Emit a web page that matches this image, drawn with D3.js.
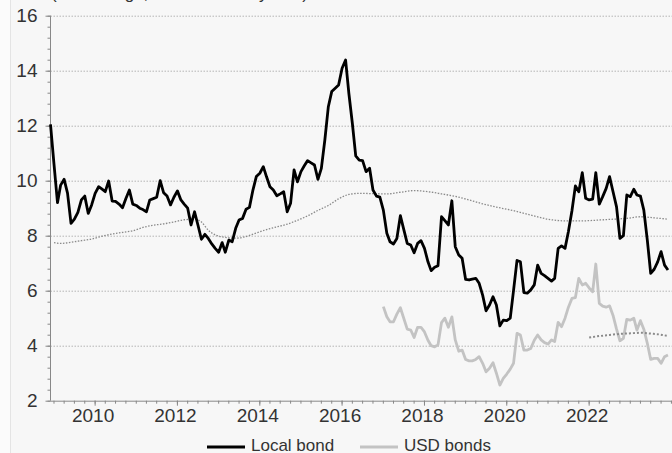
<!DOCTYPE html>
<html>
<head>
<meta charset="utf-8">
<script src="https://cdn.jsdelivr.net/npm/d3@7"></script>
<style>
  body { margin:0; padding:0; background:#f7f7f7; }
  text { font-family: "Liberation Sans", Arial, sans-serif; }
</style>
</head>
<body>
<div id="chart"></div>
<script>
// monthly yields, Dec 2008 .. Dec 2023
let localBond = [
  12.05,10.6,9.2,9.84,10.05,9.55,8.45,8.6,8.85,9.3,9.44,8.81,
  9.12,9.54,9.78,9.7,9.6,9.99,9.26,9.25,9.15,9.02,9.35,9.66,
  9.15,9.1,9.0,8.95,8.87,9.3,9.35,9.4,10.0,9.56,9.44,9.12,
  9.4,9.63,9.3,9.15,9.0,8.39,8.87,8.39,7.87,8.05,7.9,7.7,
  7.54,7.4,7.75,7.4,7.84,7.78,8.27,8.57,8.63,8.96,9.03,9.66,
  10.15,10.27,10.51,10.15,9.78,9.66,9.45,9.52,9.6,8.87,9.18,10.39,
  9.96,10.33,10.55,10.73,10.65,10.57,10.05,10.45,11.48,12.69,13.24,13.36,
  13.48,14.09,14.39,13.18,12.09,10.9,10.75,10.73,10.33,10.45,9.66,9.44,
  9.4,8.93,8.09,7.78,7.7,7.9,8.73,8.23,7.72,7.66,7.38,7.72,
  7.82,7.54,7.05,6.73,6.85,6.91,8.69,8.55,8.39,9.27,7.6,7.3,
  7.18,6.41,6.39,6.42,6.45,6.27,5.84,5.27,5.48,5.78,5.48,4.72,
  4.93,4.91,5.0,6.0,7.1,7.05,5.93,5.91,6.03,6.21,6.93,6.63,
  6.55,6.45,6.35,6.45,7.54,7.63,7.54,8.15,8.9,9.81,9.6,10.29,
  9.36,9.3,9.33,10.29,9.15,9.42,9.72,10.15,9.6,9.05,7.9,8.0,
  9.48,9.42,9.69,9.48,9.44,8.93,7.84,6.63,6.78,7.05,7.42,6.93,
  6.75
];

// USD bonds, Jan 2017 .. Dec 2023
let usdBonds = [
  5.42,5.05,4.87,4.87,5.15,5.38,5.0,4.6,4.57,4.3,4.67,4.67,
  4.5,4.2,4.0,3.96,4.03,4.84,5.0,4.67,5.05,4.21,3.8,3.84,
  3.5,3.45,3.45,3.5,3.6,3.36,3.05,3.18,3.38,3.0,2.57,2.81,
  2.97,3.15,3.36,4.45,4.39,3.84,3.84,3.9,4.2,4.39,4.21,4.11,
  4.06,4.21,4.15,4.85,4.69,5.0,5.4,5.72,5.75,6.45,6.21,6.27,
  6.1,5.96,6.97,5.54,5.44,5.4,5.45,5.1,4.6,4.18,4.27,4.96,
  4.93,5.0,4.57,4.91,4.6,4.09,3.5,3.54,3.54,3.36,3.6,3.66
];

// long-run averages (dotted), month index from Dec 2008
let localAvgMonth = [1,3,6,9,12,15,18,21,24,27,30,33,36,39,42,44,46,48,51,54,57,60,63,66,69,72,75,78,81,84,87,90,94,98,102,106,110,114,118,122,126,130,135,140,145,150,155,160,164,168,172,176,180];
let localAvgValue = [7.75,7.72,7.76,7.82,7.88,7.98,8.06,8.12,8.18,8.3,8.38,8.43,8.5,8.58,8.6,8.5,8.2,8.03,7.94,7.91,7.97,8.1,8.22,8.32,8.42,8.56,8.72,8.92,9.1,9.34,9.5,9.54,9.53,9.52,9.58,9.64,9.6,9.52,9.43,9.3,9.16,9.04,8.91,8.75,8.6,8.54,8.54,8.57,8.6,8.63,8.69,8.65,8.6];
let usdAvgMonth = [157,160,163,166,169,172,175,178,180];
let usdAvgValue = [4.3,4.35,4.39,4.43,4.45,4.47,4.44,4.4,4.35];

let yTicks = [2,4,6,8,10,12,14,16];
let xTickYears = [2010,2012,2014,2016,2018,2020,2022];
let legendNames = ["Local bond","USD bonds"];

let svgWidth = 672;
let svgHeight = 453;
let margin = {top:15.7, right:0, bottom:52.3, left:50.5};
let height = svgHeight - margin.top - margin.bottom;

let startMonth = new Date(2008, 11, 1);
function monthDate(i) { return d3.timeMonth.offset(startMonth, i); }

let svg = d3.select("#chart").append("svg")
  .attr("width", svgWidth)
  .attr("height", svgHeight);

svg.append("rect").attr("width", svgWidth).attr("height", svgHeight).attr("fill", "#f7f7f7");
svg.append("rect").attr("width", 10).attr("height", svgHeight).attr("fill", "#fbfbfb");
svg.append("line").attr("x1", 10.5).attr("x2", 10.5).attr("y1", 0).attr("y2", svgHeight)
  .attr("stroke", "#e4e4e4");

// cut-off subtitle at the very top
svg.append("text")
  .attr("x", 51).attr("y", -1)
  .attr("font-size", "17px").attr("fill", "#333")
  .text("(Percentage, end-of-month yields)");

let x = d3.scaleTime()
  .domain([startMonth, new Date(2024, 0, 6)])
  .range([margin.left, svgWidth]);

let y = d3.scaleLinear()
  .domain([2, 16])
  .range([margin.top + height, margin.top]);

// gridlines
svg.append("g").selectAll("line")
  .data(yTicks.filter(d => d > 2))
  .enter().append("line")
  .attr("x1", margin.left).attr("x2", svgWidth)
  .attr("y1", d => y(d) + 0.5).attr("y2", d => y(d) + 0.5)
  .attr("stroke", "#b4b4b4")
  .attr("stroke-width", 1)
  .attr("stroke-dasharray", "1.5,1.5");

// y axis with minor ticks
let yMinor = d3.range(2, 16.01, 0.4);
let yAxisG = svg.append("g").attr("transform", `translate(${margin.left},0)`);
yAxisG.append("line").attr("x1", 0).attr("x2", 0)
  .attr("y1", y(16)).attr("y2", y(2)).attr("stroke", "#888");
yAxisG.selectAll(".minor").data(yMinor).enter().append("line")
  .attr("x1", -3).attr("x2", 0)
  .attr("y1", d => y(d) + 0.5).attr("y2", d => y(d) + 0.5)
  .attr("stroke", "#888");
yAxisG.selectAll(".major").data(yTicks).enter().append("line")
  .attr("x1", -5).attr("x2", 0)
  .attr("y1", d => y(d) + 0.5).attr("y2", d => y(d) + 0.5)
  .attr("stroke", "#888");
yAxisG.selectAll("text").data(yTicks).enter().append("text")
  .attr("x", -13).attr("y", d => y(d))
  .attr("dy", "0.35em")
  .attr("text-anchor", "end")
  .attr("font-size", "19px").attr("fill", "#333")
  .text(d => d);

// x axis with quarterly minor ticks
let xAxisG = svg.append("g").attr("transform", `translate(0,${y(2)})`);
xAxisG.append("line").attr("x1", margin.left).attr("x2", svgWidth)
  .attr("y1", 0.5).attr("y2", 0.5).attr("stroke", "#888");
let quarters = d3.timeMonth.every(3).range(new Date(2009, 0, 1), new Date(2024, 0, 7));
xAxisG.selectAll(".minor").data(quarters).enter().append("line")
  .attr("x1", d => x(d)).attr("x2", d => x(d))
  .attr("y1", 0).attr("y2", 3).attr("stroke", "#888");
xAxisG.selectAll(".major").data(xTickYears).enter().append("line")
  .attr("x1", d => x(new Date(d, 0, 1))).attr("x2", d => x(new Date(d, 0, 1)))
  .attr("y1", 0).attr("y2", 5).attr("stroke", "#888");
xAxisG.selectAll("text").data(xTickYears).enter().append("text")
  .attr("x", d => x(new Date(d, 0, 1)) - 2)
  .attr("y", 21)
  .attr("text-anchor", "middle")
  .attr("font-size", "19px").attr("fill", "#333")
  .text(d => d);

let line = d3.line()
  .x(d => x(d.date))
  .y(d => y(d.value));

let localData = localBond.map((v, i) => ({date: monthDate(i), value: v}));
let usdData = usdBonds.map((v, i) => ({date: monthDate(97 + i), value: v}));
let localAvg = localAvgMonth.map((m, i) => ({date: monthDate(m), value: localAvgValue[i]}));
let usdAvg = usdAvgMonth.map((m, i) => ({date: monthDate(m), value: usdAvgValue[i]}));

let smooth = d3.line().curve(d3.curveMonotoneX)
  .x(d => x(d.date))
  .y(d => y(d.value));

svg.append("path").datum(localAvg)
  .attr("d", smooth)
  .attr("fill", "none")
  .attr("stroke", "#8a8a8a")
  .attr("stroke-width", 1.3)
  .attr("stroke-dasharray", "1.5,1.5");

svg.append("path").datum(usdData)
  .attr("d", line)
  .attr("fill", "none")
  .attr("stroke", "#c3c3c3")
  .attr("stroke-width", 2.8)
  .attr("stroke-linejoin", "round");

svg.append("path").datum(usdAvg)
  .attr("d", smooth)
  .attr("fill", "none")
  .attr("stroke", "#8a8a8a")
  .attr("stroke-width", 2)
  .attr("stroke-dasharray", "2,2");

svg.append("path").datum(localData)
  .attr("d", line)
  .attr("fill", "none")
  .attr("stroke", "#000")
  .attr("stroke-width", 2.8)
  .attr("stroke-linejoin", "round");

// legend
let legend = svg.append("g");
let legendX = [207, 360];
let legendColors = ["#000", "#c3c3c3"];
legendNames.forEach(function(name, i) {
  legend.append("line")
    .attr("x1", legendX[i]).attr("x2", legendX[i] + 38)
    .attr("y1", 447).attr("y2", 447)
    .attr("stroke", legendColors[i]).attr("stroke-width", 3);
  legend.append("text")
    .attr("x", legendX[i] + 44).attr("y", 451)
    .attr("font-size", "17px").attr("fill", "#333")
    .text(name);
});
</script>
</body>
</html>
